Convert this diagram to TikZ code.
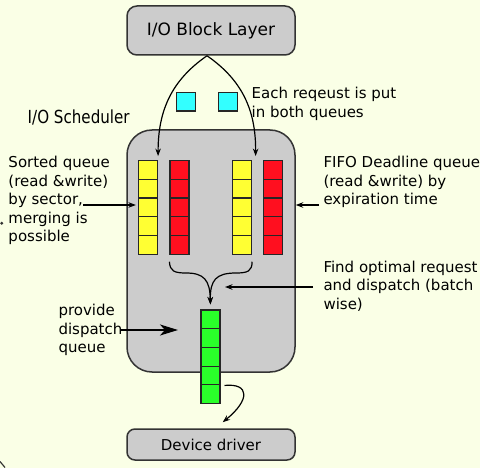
\documentclass[tikz,border=0pt]{standalone}
\usepackage{fontspec}
\setmainfont{DejaVu Sans}
\usepackage{xcolor}
\usepackage{graphicx}
\usetikzlibrary{positioning, arrows.meta}

\definecolor{bgyellow}{HTML}{FAFFE6}
\definecolor{boxgray}{HTML}{CCCCCC}
\definecolor{edgegray}{HTML}{333333}
\definecolor{qyellow}{HTML}{FFFF33}
\definecolor{qred}{HTML}{FF0F1F}
\definecolor{qgreen}{HTML}{2AFF2A}
\definecolor{qcyan}{HTML}{33FFFF}

\begin{document}
\begin{tikzpicture}[x=1pt, y=-1pt, node distance=18.7pt,
        layer/.style={draw=edgegray, fill=boxgray, line width=1.5pt, rounded corners=10pt, inner sep=0pt, font=\fontsize{15}{18}\selectfont},
        cell/.style={draw=black!85, line width=1.2pt, minimum width=19pt, minimum height=18.7pt, inner sep=0pt},
        note/.style={align=left, anchor=base west, inner sep=0pt, font=\fontsize{15}{18.5}\selectfont},
        arrow/.style={-{Stealth[length=7.5pt, width=5.5pt]}, line width=1.2pt}]
        \useasboundingbox (0,0) rectangle (480,468);
        \fill[bgyellow] (0,0) rectangle (480,468);

        % Nodes
        \node (block_layer) [layer, minimum width=168pt, minimum height=49pt, font=\fontsize{17}{20}\selectfont] at (211,30.5) {I/O Block Layer};
        \node (scheduler) [layer, rounded corners=25pt, minimum width=168pt, minimum height=242pt] at (211,251) {};
        \node (device_driver) [layer, rounded corners=8pt, minimum width=168pt, minimum height=31pt] at (211,444.5) {Device driver};
        \node (scheduler_title) [note, font=\fontsize{18}{20}\selectfont] at (27.5,123.3) {\scalebox{0.84}[1]{I/O Scheduler}};

        \node (req_a) [cell, fill=qcyan] at (186,101.7) {};
        \node (req_b) [cell, fill=qcyan] at (227.8,101.7) {};

        \node (sorted_read_1) [cell, fill=qyellow] at (148,170) {};
        \node (sorted_read_2) [cell, fill=qyellow, below of=sorted_read_1] {};
        \node (sorted_read_3) [cell, fill=qyellow, below of=sorted_read_2] {};
        \node (sorted_read_4) [cell, fill=qyellow, below of=sorted_read_3] {};
        \node (sorted_read_5) [cell, fill=qyellow, below of=sorted_read_4] {};

        \node (fifo_read_1) [cell, fill=qred] at (179.5,170) {};
        \node (fifo_read_2) [cell, fill=qred, below of=fifo_read_1] {};
        \node (fifo_read_3) [cell, fill=qred, below of=fifo_read_2] {};
        \node (fifo_read_4) [cell, fill=qred, below of=fifo_read_3] {};
        \node (fifo_read_5) [cell, fill=qred, below of=fifo_read_4] {};

        \node (sorted_write_1) [cell, fill=qyellow] at (242,170) {};
        \node (sorted_write_2) [cell, fill=qyellow, below of=sorted_write_1] {};
        \node (sorted_write_3) [cell, fill=qyellow, below of=sorted_write_2] {};
        \node (sorted_write_4) [cell, fill=qyellow, below of=sorted_write_3] {};
        \node (sorted_write_5) [cell, fill=qyellow, below of=sorted_write_4] {};

        \node (fifo_write_1) [cell, fill=qred] at (273,170) {};
        \node (fifo_write_2) [cell, fill=qred, below of=fifo_write_1] {};
        \node (fifo_write_3) [cell, fill=qred, below of=fifo_write_2] {};
        \node (fifo_write_4) [cell, fill=qred, below of=fifo_write_3] {};
        \node (fifo_write_5) [cell, fill=qred, below of=fifo_write_4] {};

        \node (dispatch_1) [cell, fill=qgreen] at (210.4,319.4) {};
        \node (dispatch_2) [cell, fill=qgreen, below of=dispatch_1] {};
        \node (dispatch_3) [cell, fill=qgreen, below of=dispatch_2] {};
        \node (dispatch_4) [cell, fill=qgreen, below of=dispatch_3] {};
        \node (dispatch_5) [cell, fill=qgreen, below of=dispatch_4] {};

        % Notes (placed at the baseline of their last line)
        \node (request_note) [note] at (251.5,117.5) {Each reqeust is put\\in both queues};
        \node (sorted_note) [note] at (8.3,242) {Sorted queue\\(read \&write)\\by sector,\\merging is\\possible};
        \node (fifo_note) [note] at (323.3,205) {FIFO Deadline queue\\(read \&write) by\\expiration time};
        \node (find_note) [note] at (323.3,309.3) {Find optimal request\\and dispatch (batch\\wise)};
        \node (provide_note) [note] at (58.3,352.7) {provide\\dispatch\\queue};

        \coordinate (sorted_tail) at (83,205);
        \coordinate (fifo_tail) at (319,205);
        \coordinate (find_tail) at (313,287);
        \coordinate (find_head) at (225,287);
        \coordinate (provide_tail) at (120,330);
        \coordinate (provide_head) at (178,330);

        % Arrows
        \draw[arrow] ([xshift=-4pt]block_layer.south) .. controls (172,80) and (158,110) .. ([yshift=4pt]sorted_read_1.north east);
        \draw[arrow] ([xshift=-4pt]block_layer.south) .. controls (242,80) and (256,110) .. ([xshift=3.5pt, yshift=4pt]sorted_write_1.north east);
        \draw[arrow] (sorted_tail) -- ([xshift=-2pt]sorted_read_3.west |- sorted_tail);
        \draw[arrow] (fifo_tail) -- (scheduler.east |- fifo_tail);
        \draw[arrow] (find_tail) -- (find_head);
        \draw[-{Stealth[length=18pt, width=11pt, inset=5pt]}, line width=2pt] (provide_tail) -- (provide_head);
        \draw[arrow] ([yshift=-7pt]fifo_read_5.south west) .. controls (170,271) and (174,273) .. (186,273) .. controls (204,273) and (210,280) .. ([yshift=5pt]dispatch_1.north);
        \draw[arrow] ([yshift=-7pt]sorted_write_5.south east) .. controls (252,271) and (248,273) .. (236,273) .. controls (216,273) and (210,280) .. ([yshift=5pt]dispatch_1.north);
        \draw[arrow] ([xshift=4pt]dispatch_4.south east) .. controls (250,383) and (250,400) .. ([xshift=11.7pt, yshift=6pt]device_driver.north);

        % Marks at the edge
        \fill[edgegray] (1.8,223.3) circle (1.6pt);
        \draw[edgegray, line width=1.2pt] (0,461.5) -- (5,467.5);
    \end{tikzpicture}
\end{document}
